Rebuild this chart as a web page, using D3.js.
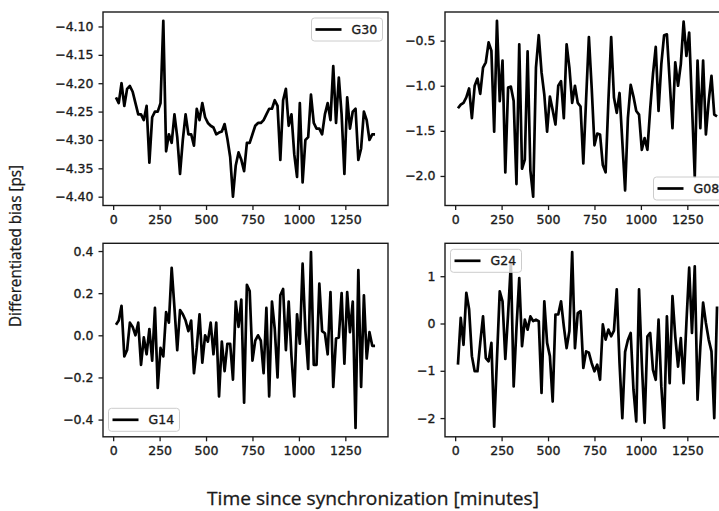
<!DOCTYPE html>
<html>
<head>
<meta charset="utf-8">
<script src="https://cdn.jsdelivr.net/npm/d3@7"></script>
<style>
body { margin: 0; background: #fff; }
text { font-family: "DejaVu Sans", sans-serif; fill: #1a1a1a; stroke: #1a1a1a; stroke-width: 0.35px; }
</style>
</head>
<body>
<div id="chart"></div>
<script>
// sample times (minutes since synchronization)
var minutes = [15, 30, 45, 60, 75, 90, 105, 120, 135, 150, 165, 180, 195, 210, 225, 240,
    255, 270, 285, 300, 315, 330, 345, 360, 375, 390, 405, 420, 435, 450, 465, 480,
    495, 510, 525, 540, 555, 570, 585, 600, 615, 630, 645, 660, 675, 690, 705, 720,
    735, 750, 765, 780, 795, 810, 825, 840, 855, 870, 885, 900, 915, 930, 945, 960,
    975, 990, 1005, 1020, 1035, 1050, 1065, 1080, 1095, 1110, 1125, 1140, 1155, 1170, 1185, 1200,
    1215, 1230, 1245, 1260, 1275, 1290, 1305, 1320, 1335, 1350, 1365, 1380, 1395, 1410];

var g30 = [-4.225, -4.235, -4.200, -4.240, -4.210, -4.205, -4.215, -4.235, -4.255, -4.255,
    -4.265, -4.240, -4.340, -4.260, -4.250, -4.250, -4.235, -4.090, -4.320, -4.290,
    -4.305, -4.255, -4.295, -4.360, -4.300, -4.255, -4.290, -4.290, -4.310, -4.245,
    -4.265, -4.235, -4.260, -4.270, -4.275, -4.278, -4.290, -4.287, -4.285, -4.272,
    -4.298, -4.330, -4.400, -4.345, -4.322, -4.335, -4.355, -4.305, -4.305, -4.290,
    -4.275, -4.270, -4.270, -4.265, -4.255, -4.245, -4.245, -4.230, -4.240, -4.335,
    -4.230, -4.210, -4.275, -4.255, -4.325, -4.365, -4.235, -4.375, -4.300, -4.295,
    -4.220, -4.270, -4.280, -4.280, -4.290, -4.255, -4.235, -4.265, -4.170, -4.270,
    -4.190, -4.255, -4.360, -4.225, -4.280, -4.250, -4.245, -4.335, -4.315, -4.250,
    -4.265, -4.300, -4.290, -4.290];

var g08 = [-1.25, -1.21, -1.19, -1.13, -1.03, -1.36, -1.00, -0.92, -1.09, -0.80,
    -0.74, -0.52, -0.61, -1.51, -0.28, -1.17, -0.72, -1.96, -1.02, -1.01,
    -1.17, -2.09, -0.54, -1.92, -1.82, -0.62, -1.94, -2.23, -0.80, -0.44,
    -0.85, -1.10, -1.51, -1.12, -1.27, -1.43, -1.00, -0.95, -1.36, -0.54,
    -0.80, -1.19, -1.00, -1.19, -1.23, -1.86, -1.15, -0.46, -1.02, -1.66,
    -1.53, -1.54, -1.88, -1.96, -1.17, -0.46, -1.13, -1.30, -1.08, -1.62,
    -2.16, -1.36, -0.99, -1.12, -1.28, -1.32, -1.71, -1.58, -1.71, -1.26,
    -0.87, -0.57, -1.28, -0.76, -0.44, -0.43, -0.95, -1.47, -0.74, -1.00,
    -0.76, -0.29, -0.67, -0.41, -1.21, -2.01, -0.72, -1.47, -0.72, -1.54,
    -1.17, -0.89, -1.32, -1.34];

var g14 = [0.05, 0.07, 0.14, -0.10, -0.07, 0.06, 0.04, 0.00, 0.06, -0.14,
    -0.01, -0.09, 0.03, -0.12, 0.13, -0.25, -0.06, -0.10, 0.11, 0.06,
    0.32, 0.13, -0.07, 0.12, 0.10, 0.07, 0.02, 0.07, -0.18, -0.06,
    0.10, -0.13, 0.00, -0.03, 0.06, -0.09, 0.06, -0.29, -0.03, -0.17,
    -0.04, -0.04, -0.21, 0.16, 0.04, 0.17, -0.32, 0.24, 0.21, -0.12,
    -0.025, 0.00, -0.025, -0.18, 0.13, -0.29, 0.16, 0.03, -0.20, 0.19,
    0.22, -0.07, 0.16, -0.10, -0.29, 0.10, -0.04, 0.34, 0.02, -0.16,
    0.395, -0.14, -0.14, 0.245, 0.02, 0.01, -0.09, 0.205, -0.245, -0.015,
    -0.01, 0.20, -0.135, 0.205, 0.015, 0.16, -0.44, 0.31, -0.245, 0.19,
    -0.11, 0.015, -0.05, -0.05];

var g24 = [-0.87, 0.12, -0.45, 0.65, 0.30, -0.69, -1.01, -1.01, -0.41, 0.15,
    -0.73, -0.80, -0.41, -2.18, -0.75, 0.68, 0.47, -0.75, 0.20, 1.28,
    -1.33, -0.10, 0.96, -0.48, 0.08, -0.13, 0.15, 0.05, 0.08, 0.05,
    -1.47, 0.47, -0.41, -0.69, -1.65, 0.19, 0.19, 0.47, -0.06, -0.52,
    -0.16, 1.51, -0.52, 0.22, 0.26, -0.94, -0.59, -0.62, -0.84, -1.01,
    -0.87, -1.19, -0.02, -0.34, -0.13, -0.27, -0.15, 0.72, -0.84, -2.00,
    -0.60, -0.35, -0.20, -1.40, -2.07, 0.72, -0.84, -2.10, -0.27, -0.20,
    -0.98, -1.19, 0.08, -1.33, -2.21, 0.15, -1.26, 0.58, -0.27, -0.91,
    -0.31, -1.26, 0.01, 1.18, -0.20, 1.21, -1.61, -0.50, 0.44, 0.01,
    -0.34, -0.59, -2.00, 0.36];

var xTicks = [0, 250, 500, 750, 1000, 1250];
var g30Ticks = [-4.40, -4.35, -4.30, -4.25, -4.20, -4.15, -4.10];
var g08Ticks = [-2.0, -1.5, -1.0, -0.5];
var g14Ticks = [-0.4, -0.2, 0.0, 0.2, 0.4];
var g24Ticks = [-2, -1, 0, 1];

var panels = [
    {name: "G30", values: g30, ticks: g30Ticks, fmt: ".2f", col: 0, row: 0, loc: "upper right"},
    {name: "G08", values: g08, ticks: g08Ticks, fmt: ".1f", col: 1, row: 0, loc: "lower right"},
    {name: "G14", values: g14, ticks: g14Ticks, fmt: ".1f", col: 0, row: 1, loc: "lower left"},
    {name: "G24", values: g24, ticks: g24Ticks, fmt: "d", col: 1, row: 1, loc: "upper left"}
];

// layout
var svg_width = 719, svg_height = 511;
var col_left = [103, 445], row_top = [12, 243.3];
var pw = 285, ph = 193.5;

var svg = d3.select("#chart").append("svg")
    .attr("width", svg_width)
    .attr("height", svg_height);

// matplotlib style 5% margins
function padded(ext) {
    var span = ext[1] - ext[0];
    return [ext[0] - 0.05 * span, ext[1] + 0.05 * span];
}

function draw_panel(p) {
    var g = svg.append("g")
        .attr("transform", "translate(" + col_left[p.col] + "," + row_top[p.row] + ")");

    var x = d3.scaleLinear().domain(padded(d3.extent(minutes))).range([0, pw]);
    var y = d3.scaleLinear().domain(padded(d3.extent(p.values))).range([ph, 0]);

    var xa = g.append("g")
        .attr("transform", "translate(0," + ph + ")")
        .call(d3.axisBottom(x).tickValues(xTicks).tickSize(4.5).tickPadding(5)
            .tickFormat(d3.format("d")));
    var ya = g.append("g")
        .call(d3.axisLeft(y).tickValues(p.ticks).tickSize(4.5).tickPadding(5)
            .tickFormat(d3.format(p.fmt)));
    [xa, ya].forEach(function(a) {
        a.select(".domain").remove();
        a.selectAll(".tick line").attr("stroke", "#1a1a1a").attr("stroke-width", 1.3);
        a.selectAll(".tick text")
            .attr("fill", "#1a1a1a")
            .style("font-family", "'DejaVu Sans', sans-serif")
            .style("font-size", "12.5px");
    });

    var line = d3.line()
        .x(function(d, i) { return x(minutes[i]); })
        .y(function(d) { return y(d); });

    g.append("path")
        .datum(p.values)
        .attr("d", line)
        .attr("fill", "none")
        .attr("stroke", "#000")
        .attr("stroke-width", 2.7)
        .attr("stroke-linejoin", "round");

    // spines
    g.append("rect")
        .attr("width", pw)
        .attr("height", ph)
        .attr("fill", "none")
        .attr("stroke", "#1a1a1a")
        .attr("stroke-width", 1.4);

    // legend
    var lw = 71, lh = 23, off = 5.5;
    var lx = p.loc.indexOf("right") >= 0 ? pw - off - lw : off;
    var ly = p.loc.indexOf("upper") >= 0 ? off + 0.5 : ph - off - lh;
    var leg = g.append("g").attr("transform", "translate(" + lx + "," + ly + ")");
    leg.append("rect")
        .attr("width", lw)
        .attr("height", lh)
        .attr("rx", 3)
        .attr("fill", "#fff")
        .attr("fill-opacity", 0.8)
        .attr("stroke", "#ccc")
        .attr("stroke-width", 1);
    leg.append("line")
        .attr("x1", 4).attr("x2", 30)
        .attr("y1", lh / 2).attr("y2", lh / 2)
        .attr("stroke", "#000")
        .attr("stroke-width", 2.7);
    leg.append("text")
        .attr("x", 40)
        .attr("y", lh / 2 + 4.5)
        .style("font-size", "12.5px")
        .text(p.name);
}

panels.forEach(draw_panel);

// shared axis titles
svg.append("text")
    .attr("x", 373)
    .attr("y", 505)
    .attr("text-anchor", "middle")
    .attr("textLength", 332)
    .attr("lengthAdjust", "spacingAndGlyphs")
    .style("font-family", "'Open Sans', sans-serif")
    .style("font-size", "18px")
    .style("stroke-width", "0.3px")
    .text("Time since synchronization [minutes]");

svg.append("text")
    .attr("transform", "translate(21,246) rotate(-90)")
    .attr("text-anchor", "middle")
    .attr("textLength", 162)
    .attr("lengthAdjust", "spacingAndGlyphs")
    .style("font-family", "'Open Sans', sans-serif")
    .style("font-size", "16px")
    .style("stroke-width", "0.3px")
    .text("Differentiated bias [ps]");
</script>
</body>
</html>
